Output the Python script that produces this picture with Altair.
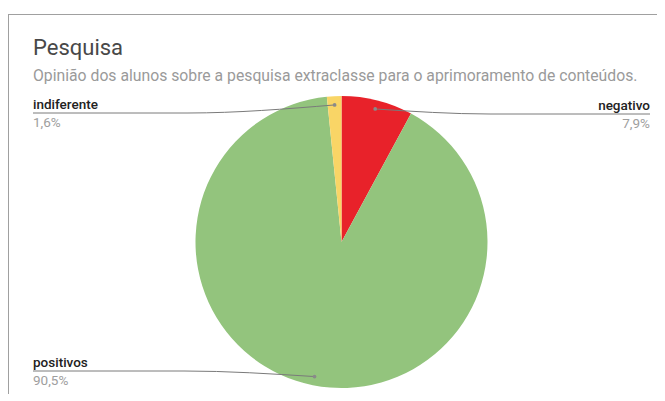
import math
import altair as alt
import pandas as pd

# ---- data ----
categories = ["negativo", "positivos", "indiferente"]
values = [7.9, 90.5, 1.6]
pct_labels = ["7,9%", "90,5%", "1,6%"]
colors = ["#E8222A", "#93C47D", "#F9D566"]

title_text = "Pesquisa"
subtitle_text = "Opinião dos alunos sobre a pesquisa extraclasse para o aprimoramento de conteúdos."

# ---- layout (chart pixel coords) ----
W, H = 649, 386
CX, CY, R = 333.5, 234.0, 146.0
label_side = {"negativo": "right", "positivos": "left", "indiferente": "left"}
label_line_y = {"negativo": 106, "positivos": 363, "indiferente": 105}
bend_x = {"negativo": 482, "positivos": 176, "indiferente": 180}
LEFT_X, RIGHT_X = 25, 642

pie = pd.DataFrame({"cat": categories, "val": values, "ord": list(range(len(categories))),
                    "pct": pct_labels})

# leader lines computed from slice mid angles
tot = sum(values)
cum = 0.0
line_rows, dot_rows, lab_rows = [], [], []
for c, v, p in zip(categories, values, pct_labels):
    mid = (cum + v / 2) / tot * 2 * math.pi
    cum += v
    ax = CX + 0.94 * R * math.sin(mid)
    ay = CY - 0.94 * R * math.cos(mid)
    ly = label_line_y[c]
    end_x = RIGHT_X if label_side[c] == "right" else LEFT_X
    line_rows += [
        {"cat": c, "i": 0, "px": end_x, "py": ly},
        {"cat": c, "i": 1, "px": bend_x[c], "py": ly},
        {"cat": c, "i": 2, "px": ax, "py": ay},
    ]
    dot_rows.append({"cat": c, "px": ax, "py": ay})
    lab_rows.append({"cat": c, "pct": p, "px": end_x, "ny": ly - 4, "py2": ly + 14,
                     "align": label_side[c]})

lines_df = pd.DataFrame(line_rows)
dots_df = pd.DataFrame(dot_rows)
labs_df = pd.DataFrame(lab_rows)

FONT = "Roboto"

arc = alt.Chart(pie).mark_arc(outerRadius=R, stroke=None).encode(
    theta=alt.Theta("val:Q", stack=True),
    order=alt.Order("ord:Q"),
    color=alt.Color("cat:N", scale=alt.Scale(domain=categories, range=colors), legend=None),
    x=alt.value(CX), y=alt.value(CY),
)

leaders = alt.Chart(lines_df).mark_line(color="#7a7a7a", strokeWidth=1, interpolate="monotone").encode(
    x=alt.X("px:Q", scale=None, axis=None),
    y=alt.Y("py:Q", scale=None, axis=None),
    detail="cat:N",
    order="i:Q",
)

dots = alt.Chart(dots_df).mark_circle(color="#8a8a8a", size=14, opacity=1).encode(
    x=alt.X("px:Q", scale=None), y=alt.Y("py:Q", scale=None)
)

def side_text(df, field, ycol, color, weight):
    out = []
    for side in ["left", "right"]:
        out.append(
            alt.Chart(df[df["align"] == side]).mark_text(
                align=side, baseline="alphabetic", font=FONT, fontSize=13.5,
                color=color, fontWeight=weight,
            ).encode(
                x=alt.X("px:Q", scale=None), y=alt.Y(f"{ycol}:Q", scale=None), text=f"{field}:N"
            )
        )
    return out

names = side_text(labs_df, "cat", "ny", "#222222", 500)
pcts = side_text(labs_df, "pct", "py2", "#9e9e9e", 400)

title = alt.Chart(pd.DataFrame({"t": [title_text]})).mark_text(
    align="left", baseline="alphabetic", font=FONT, fontSize=22, color="#484848"
).encode(x=alt.value(25), y=alt.value(47), text="t:N")

subtitle = alt.Chart(pd.DataFrame({"t": [subtitle_text]})).mark_text(
    align="left", baseline="alphabetic", font=FONT, fontSize=15.75, color="#9a9a9a"
).encode(x=alt.value(25), y=alt.value(73), text="t:N")

border_top = alt.Chart(pd.DataFrame({"a": [0]})).mark_rule(color="#a0a0a0", strokeWidth=1).encode(
    x=alt.value(0), x2=alt.value(W), y=alt.value(6.5)
)
border_left = alt.Chart(pd.DataFrame({"a": [0]})).mark_rule(color="#a0a0a0", strokeWidth=1).encode(
    x=alt.value(0.5), y=alt.value(6.5), y2=alt.value(H)
)

chart = alt.layer(
    border_top, border_left, arc, leaders, dots, *names, *pcts, title, subtitle
).properties(
    width=W, height=H, padding=0, autosize=alt.AutoSizeParams(type="none")
).configure_view(stroke=None)

chart.save("out.html", embed_options={"renderer": "svg", "actions": False})
